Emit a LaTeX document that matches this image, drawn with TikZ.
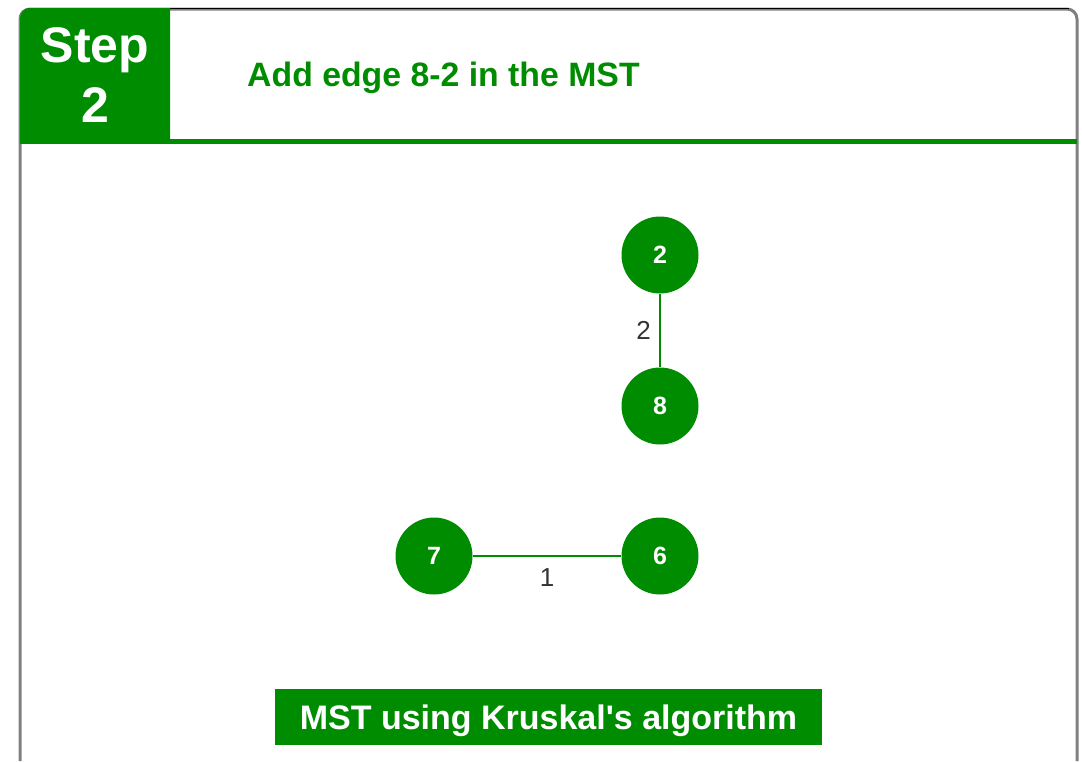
\documentclass[tikz,border=0pt]{standalone}
\usepackage{fontspec}
\setmainfont{Liberation Sans}
\usetikzlibrary{positioning}
\definecolor{stepgreen}{RGB}{0,140,0}
\definecolor{weightgray}{RGB}{51,51,51}
\tikzset{
  vertex/.style={circle, fill=stepgreen, minimum size=77pt, inner sep=0pt, text=white, font=\fontsize{25}{30}\selectfont\bfseries},
  mstedge/.style={draw=stepgreen, line width=1.6pt},
  weight/.style={text=weightgray, font=\fontsize{26}{30}\selectfont},
}
\begin{document}
\begin{tikzpicture}[x=1pt,y=-1pt]
  \useasboundingbox (0,0) rectangle (1082,761);
  % card frame
  \draw[gray, line width=3pt, rounded corners=10pt] (20,761) -- (20,9) -- (1077,9) -- (1077,761);
  \draw[black, line width=1.5pt] (28,8.5) -- (1069,8.5);
  \fill[stepgreen] (20,141) [rounded corners=10pt] -- (20,8) [sharp corners] -- (170,8) -- (170,141) -- cycle;
  \draw[stepgreen, line width=5pt] (20,141) -- (1077,141);
  \node[text=white, align=center, font=\fontsize{50}{60}\selectfont\bfseries] (step) at (95,75) {Step\\2};
  \node[anchor=west, text=stepgreen, font=\fontsize{33.8}{38}\selectfont\bfseries, inner sep=0pt] (title) at (247,78) {Add edge 8-2 in the MST};
  % graph
  \node[vertex] (v2) at (660,255) {2};
  \node[vertex] (v8) at (660,406) {8};
  \node[vertex] (v7) at (434,556) {7};
  \node[vertex] (v6) at (660,556) {6};
  \draw[mstedge] (v2) -- node[weight, left=5pt] {2} (v8);
  \draw[mstedge] (v7) -- node[weight, below=8pt] {1} (v6);
  \node[fill=stepgreen, minimum width=547pt, minimum height=56pt, text depth=0pt, text=white, font=\fontsize{34}{38}\selectfont\bfseries] (caption) at (548.5,717) {MST using Kruskal\textquotesingle s algorithm};
\end{tikzpicture}
\end{document}
